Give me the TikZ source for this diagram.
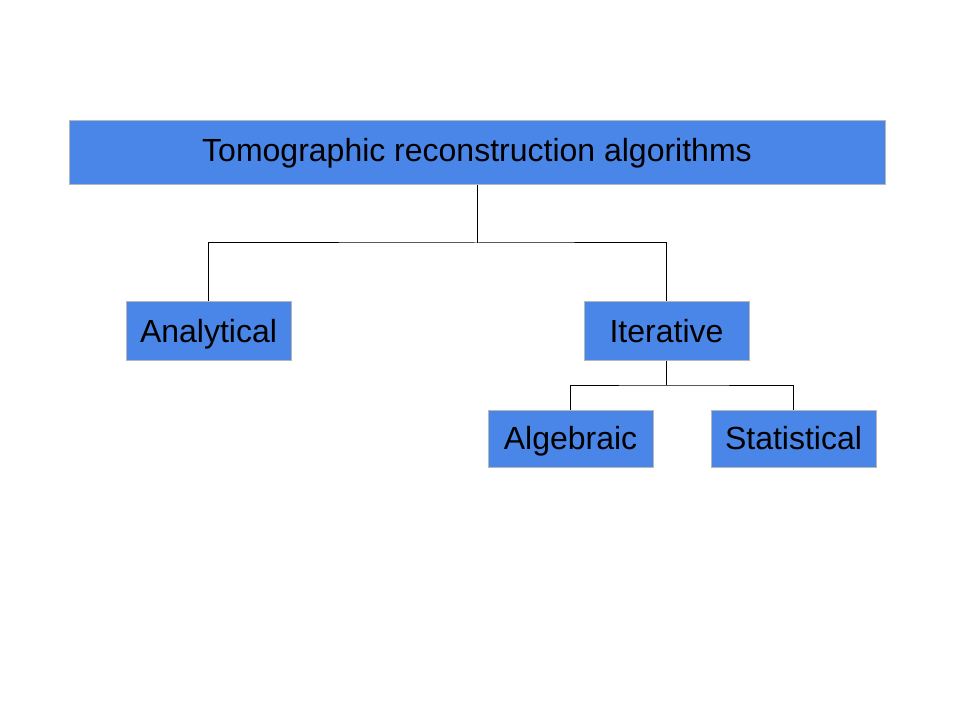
\documentclass[tikz,border=0pt]{standalone}
\usepackage{fontspec}
\setmainfont{Liberation Sans}
\definecolor{boxfill}{HTML}{4A86E8}
\definecolor{boxline}{HTML}{B7B7B7}
\begin{document}
\begin{tikzpicture}[x=0.75pt,y=-0.75pt,
  box/.style={draw=boxline,line width=0.75pt,fill=boxfill,inner sep=0pt,font=\fontsize{24}{28}\selectfont,text=black,text height=17.2pt,text depth=0pt},
  conn/.style={draw=black,line width=0.75pt}]
\useasboundingbox (0,0) rectangle (960,720);
\node[box,text depth=4pt,minimum width=816*0.75pt,minimum height=64*0.75pt] (top) at (477,153) {Tomographic reconstruction algorithms};
\node[box,minimum width=165*0.75pt,minimum height=58*0.75pt] (ana) at (208.5,331) {Analytical};
\node[box,minimum width=165*0.75pt,minimum height=58*0.75pt] (ite) at (666.5,331) {Iterative};
\node[box,minimum width=165*0.75pt,minimum height=57*0.75pt] (alg) at (570.5,438.5) {Algebraic};
\node[box,minimum width=165*0.75pt,minimum height=57*0.75pt] (sta) at (793.5,438.5) {Statistical};
\coordinate (j1) at (477,243);
\coordinate (j2) at (666.5,385);
\draw[conn] (top.south) -- (j1);
\draw[conn] (ana.north) |- (j1) -| (ite.north);
\draw[conn] (ite.south) -- (j2);
\draw[conn] (alg.north) |- (j2) -| (sta.north);
\end{tikzpicture}
\end{document}
